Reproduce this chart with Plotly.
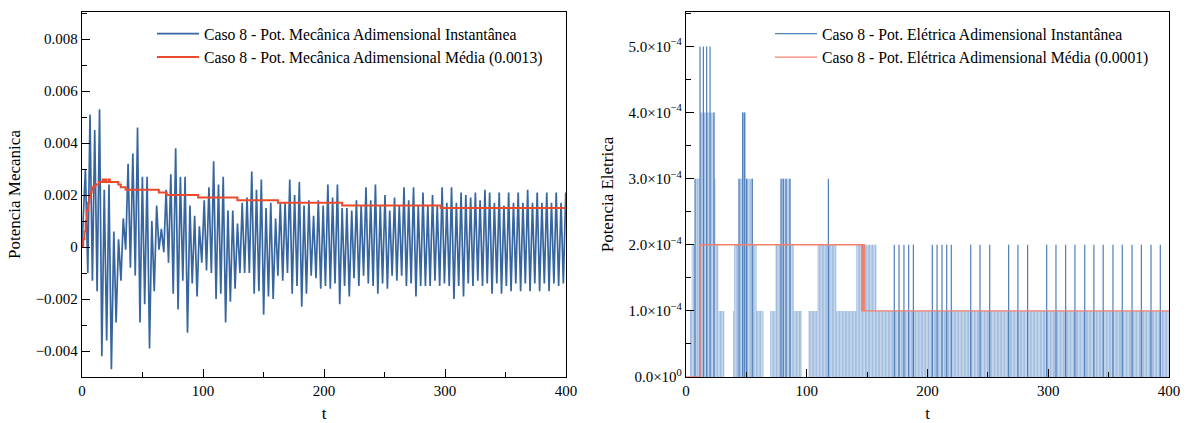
import plotly.graph_objects as go

# ================= LEFT PANEL : mechanical power =================
start_t = [0.0, 2.8, 4.8]
start_v = [0.0, 0.0030, -0.0010]

peak_t = [6.6, 10.5, 14.5, 18.4, 22.3, 26.3, 30.2, 34.1, 38.1, 42.0,
          45.9, 49.9, 53.8, 57.7, 61.7, 65.6, 69.5, 73.4, 77.4, 81.3,
          85.2, 89.2, 93.1, 97.0, 101.0, 104.9, 108.8, 112.8, 116.7, 120.6,
          124.6, 128.5, 132.4, 136.4, 140.3, 144.2, 148.2, 152.1, 156.0, 160.0,
          163.9, 167.8, 171.7, 175.7, 179.6, 183.5, 187.5, 191.4, 195.3, 199.3,
          203.2, 207.1, 211.1, 215.0, 218.9, 222.9, 226.8, 230.7, 234.7, 238.6,
          242.5, 246.5, 250.4, 254.3, 258.3, 262.2, 266.1, 270.0, 274.0, 277.9,
          281.8, 285.8, 289.7, 293.6, 297.6, 301.5, 305.4, 309.4, 313.3, 317.2,
          321.2, 325.1, 329.0, 333.0, 336.9, 340.8, 344.8, 348.7, 352.6, 356.6,
          360.5, 364.4, 368.3, 372.3, 376.2, 380.1, 384.1, 388.0, 391.9, 395.9,
          399.8]
peak_v = [0.0051, 0.0045, 0.0053, 0.0022, 0.0024, 0.0006, 0.0003, 0.0011, 0.0032, 0.0036,
          0.0046, 0.0027, 0.0027, 0.0010, 0.0016, 0.0007, 0.0022, 0.0028, 0.0038, 0.0027,
          0.0027, 0.0016, 0.0012, 0.0008, 0.0018, 0.0023, 0.0033, 0.0024, 0.0027, 0.0014,
          0.0014, 0.0009, 0.0017, 0.0019, 0.0029, 0.0022, 0.0026, 0.0015, 0.0017, 0.0011,
          0.0017, 0.0017, 0.0026, 0.0020, 0.0025, 0.0016, 0.0018, 0.0012, 0.0018, 0.0016,
          0.0024, 0.0019, 0.0024, 0.0015, 0.0015, 0.0014, 0.0018, 0.0016, 0.0023, 0.0018,
          0.0024, 0.0016, 0.0020, 0.0014, 0.0019, 0.0016, 0.0023, 0.0018, 0.0023, 0.0016,
          0.0021, 0.0016, 0.0020, 0.0016, 0.0023, 0.0017, 0.0023, 0.0017, 0.0021, 0.0020,
          0.0019, 0.0021, 0.0018, 0.0022, 0.0021, 0.0017, 0.0021, 0.0016, 0.0021, 0.0017,
          0.0021, 0.0017, 0.0022, 0.0017, 0.0021, 0.0017, 0.0021, 0.0017, 0.0021, 0.0017,
          0.0021]

trough_t = [8.6, 12.5, 16.4, 20.4, 24.3, 28.2, 32.2, 36.1, 40.0, 44.0,
            47.9, 51.8, 55.8, 59.7, 63.6, 67.6, 71.5, 75.4, 79.4, 83.3,
            87.2, 91.1, 95.1, 99.0, 102.9, 106.9, 110.8, 114.7, 118.7, 122.6,
            126.5, 130.5, 134.4, 138.3, 142.3, 146.2, 150.1, 154.1, 158.0, 161.9,
            165.9, 169.8, 173.7, 177.7, 181.6, 185.5, 189.4, 193.4, 197.3, 201.2,
            205.2, 209.1, 213.0, 217.0, 220.9, 224.8, 228.8, 232.7, 236.6, 240.6,
            244.5, 248.4, 252.4, 256.3, 260.2, 264.2, 268.1, 272.0, 276.0, 279.9,
            283.8, 287.7, 291.7, 295.6, 299.5, 303.5, 307.4, 311.3, 315.3, 319.2,
            323.1, 327.1, 331.0, 334.9, 338.9, 342.8, 346.7, 350.7, 354.6, 358.5,
            362.5, 366.4, 370.3, 374.2, 378.2, 382.1, 386.0, 390.0, 393.9, 397.8]
trough_v = [-0.0013, -0.0017, -0.0042, -0.0036, -0.0047, -0.0029, -0.0013, -0.0001, -0.0008, -0.0011,
            -0.0029, -0.0022, -0.0039, -0.0017, -0.0001, -0.0002, -0.0006, -0.0018, -0.0024, -0.0013,
            -0.0033, -0.0014, -0.0019, -0.0006, -0.0009, -0.0010, -0.0020, -0.0018, -0.0029, -0.0021,
            -0.0016, -0.0010, -0.0010, -0.0010, -0.0018, -0.0017, -0.0026, -0.0019, -0.0020, -0.0011,
            -0.0013, -0.0010, -0.0018, -0.0015, -0.0023, -0.0018, -0.0011, -0.0012, -0.0016, -0.0015,
            -0.0016, -0.0014, -0.0022, -0.0015, -0.0019, -0.0012, -0.0015, -0.0011, -0.0014, -0.0015,
            -0.0018, -0.0014, -0.0016, -0.0011, -0.0013, -0.0011, -0.0015, -0.0014, -0.0019, -0.0015,
            -0.0015, -0.0015, -0.0013, -0.0015, -0.0014, -0.0015, -0.0020, -0.0015, -0.0019, -0.0014,
            -0.0015, -0.0013, -0.0015, -0.0014, -0.0018, -0.0014, -0.0018, -0.0015, -0.0017, -0.0014,
            -0.0017, -0.0014, -0.0017, -0.0014, -0.0017, -0.0014, -0.0017, -0.0014, -0.0015, -0.0014]

mean_t = [0, 1, 2, 3, 4, 5, 6, 7, 8, 9, 10, 11, 12, 14, 16, 17, 18, 19, 20, 22, 23,
          24, 28, 30, 32, 34, 36, 63.5, 70, 96, 128.4, 162, 215, 296.5, 400]
mean_v = [0.0, 0.0003, 0.0006, 0.0010, 0.0014, 0.0017, 0.0019, 0.0021, 0.0022, 0.0023,
          0.0023, 0.0024, 0.0024, 0.0025, 0.0025, 0.0026, 0.0025, 0.0026, 0.0025, 0.0026,
          0.0025, 0.0025, 0.0025, 0.0024, 0.0023, 0.0023, 0.0022, 0.0021, 0.0020, 0.0019,
          0.0018, 0.0017, 0.0016, 0.0015, 0.0015]

mech_yticks = [-0.004, -0.002, 0, 0.002, 0.004, 0.006, 0.008]
mech_yticktext = ["\u22120.004", "\u22120.002", "0", "0.002", "0.004", "0.006", "0.008"]

# ================= RIGHT PANEL : electrical power =================
band_t0 = [3.3, 39.0, 69.7, 101.4, 4.7, 39.8, 74.0, 108.8, 141.0, 7.5, 43.5, 78.5, 11.6, 46.5]
band_t1 = [31.7, 64.2, 95.9, 400.0, 26.8, 58.5, 89.2, 124.5, 157.7, 24.5, 55.5, 86.5, 23.5, 49.5]
band_lo = [0, 0, 0, 0, 1e-4, 1e-4, 1e-4, 1e-4, 1e-4, 2e-4, 2e-4, 2e-4, 3e-4, 3e-4]
band_hi = [1e-4, 1e-4, 1e-4, 1e-4, 2e-4, 2e-4, 2e-4, 2e-4, 2e-4, 3e-4, 3e-4, 3e-4, 4e-4, 4e-4]

spike_t = [11.6, 14.4, 17.1, 19.9,
           23.2, 46.9, 48.6,
           7.5, 43.9, 50.2, 54.9, 78.7, 80.6, 82.8, 86.1, 117.9,
           172.5, 176.4, 180.5, 184.4, 188.3, 204.0, 207.9, 212.0, 215.9, 219.7,
           235.8, 243.5, 251.5, 267.2, 274.9, 282.9, 298.7, 306.4, 314.4, 322.1,
           330.2, 337.8, 345.5, 353.6, 361.3, 369.4, 377.1, 385.1, 392.8]
spike_v = [5e-4, 5e-4, 5e-4, 5e-4,
           4e-4, 4e-4, 4e-4,
           3e-4, 3e-4, 3e-4, 3e-4, 3e-4, 3e-4, 3e-4, 3e-4, 3e-4,
           2e-4, 2e-4, 2e-4, 2e-4, 2e-4, 2e-4, 2e-4, 2e-4, 2e-4, 2e-4,
           2e-4, 2e-4, 2e-4, 2e-4, 2e-4, 2e-4, 2e-4, 2e-4, 2e-4, 2e-4,
           2e-4, 2e-4, 2e-4, 2e-4, 2e-4, 2e-4, 2e-4, 2e-4, 2e-4]

emean_t = [0, 11.6, 145.6, 146.1, 146.6, 147.1, 147.6, 400]
emean_v = [0, 2e-4, 1e-4, 2e-4, 1e-4, 2e-4, 1e-4, 1e-4]

elec_yticks = [0, 1e-4, 2e-4, 3e-4, 4e-4, 5e-4]
elec_yticktext = ["0.0\u00d710<sup>0</sup>", "1.0\u00d710<sup>\u22124</sup>", "2.0\u00d710<sup>\u22124</sup>",
                  "3.0\u00d710<sup>\u22124</sup>", "4.0\u00d710<sup>\u22124</sup>", "5.0\u00d710<sup>\u22124</sup>"]

xticks = [0, 100, 200, 300, 400]

# ---------- build series ----------
pts = sorted(list(zip(start_t, start_v)) + list(zip(peak_t, peak_v)) + list(zip(trough_t, trough_v)))
mech_x = [p[0] for p in pts]
mech_y = [p[1] for p in pts]

bx, by = [], []
for a, b, lo, hi in zip(band_t0, band_t1, band_lo, band_hi):
    bx += [a, a, b, b, a, None]
    by += [lo, hi, hi, lo, lo, None]

sx, sy = [], []
for t, v in zip(spike_t, spike_v):
    sx += [t, t, None]
    sy += [0, v, None]

FONT = "Liberation Serif, Times New Roman, serif"
fig = go.Figure()

fig.add_trace(go.Scatter(x=mech_x, y=mech_y, mode="lines",
                         line=dict(color="#36659f", width=1.7),
                         name="Caso 8 - Pot. Mecânica Adimensional Instantânea",
                         xaxis="x", yaxis="y", legend="legend"))
fig.add_trace(go.Scatter(x=mean_t, y=mean_v, mode="lines", line_shape="hv",
                         line=dict(color="#ec4a2c", width=2),
                         name="Caso 8 - Pot. Mecânica Adimensional Média (0.0013)",
                         xaxis="x", yaxis="y", legend="legend"))

fig.add_trace(go.Scatter(x=bx, y=by, mode="lines", fill="toself",
                         line=dict(width=0, color="rgba(0,0,0,0)"),
                         fillcolor="#c4d6ec",
                         fillpattern=dict(shape="|", size=3.3, solidity=0.3,
                                          fgcolor="#5a88c2", bgcolor="#c4d6ec"),
                         showlegend=False, hoverinfo="skip",
                         xaxis="x2", yaxis="y2"))
fig.add_trace(go.Scatter(x=sx, y=sy, mode="lines",
                         line=dict(color="#4f7fbb", width=1.2),
                         name="Caso 8 - Pot. Elétrica Adimensional Instantânea",
                         xaxis="x2", yaxis="y2", legend="legend2"))
fig.add_trace(go.Scatter(x=emean_t, y=emean_v, mode="lines", line_shape="hv",
                         line=dict(color="#f2806c", width=1.4),
                         name="Caso 8 - Pot. Elétrica Adimensional Média (0.0001)",
                         xaxis="x2", yaxis="y2", legend="legend2"))

W, H = 1190, 423
ax_common = dict(showline=True, linecolor="black", linewidth=1.3, mirror=True,
                 ticks="inside", ticklen=8, tickwidth=1.2, tickcolor="black",
                 showgrid=False, zeroline=False,
                 tickfont=dict(family=FONT, size=15, color="black"),
                 automargin=False)

fig.update_layout(
    width=W, height=H,
    margin=dict(l=0, r=0, t=0, b=0),
    paper_bgcolor="white", plot_bgcolor="white",
    font=dict(family=FONT, size=15, color="black"),
    xaxis=dict(domain=[82 / W, 566 / W], range=[0, 400], tickmode="array", tickvals=xticks,
               minor=dict(ticks="inside", ticklen=5, tickmode="linear", tick0=0, dtick=50, tickcolor="black"),
               title=dict(text="t", font=dict(family=FONT, size=17), standoff=8),
               anchor="y", **ax_common),
    yaxis=dict(domain=[46 / H, 411 / H], range=[-0.005, 0.00904], tickmode="array",
               tickvals=mech_yticks, ticktext=mech_yticktext,
               minor=dict(ticks="inside", ticklen=5, tickmode="linear", tick0=0, dtick=0.001, tickcolor="black"),
               title=dict(text="Potencia Mecanica", font=dict(family=FONT, size=17), standoff=10),
               anchor="x", **ax_common),
    xaxis2=dict(domain=[686 / W, 1169 / W], range=[0, 400], tickmode="array", tickvals=xticks,
                minor=dict(ticks="inside", ticklen=5, tickmode="linear", tick0=0, dtick=50, tickcolor="black"),
                title=dict(text="t", font=dict(family=FONT, size=17), standoff=8),
                anchor="y2", **ax_common),
    yaxis2=dict(domain=[46 / H, 411 / H], range=[0, 5.52e-4], tickmode="array",
                tickvals=elec_yticks, ticktext=elec_yticktext,
                minor=dict(ticks="inside", ticklen=5, tickmode="linear", tick0=0, dtick=0.5e-4, tickcolor="black"),
                title=dict(text="Potencia Eletrica", font=dict(family=FONT, size=17), standoff=10),
                anchor="x2", **ax_common),
    legend=dict(x=152 / W, y=1 - 17 / H, xanchor="left", yanchor="top",
                bgcolor="rgba(0,0,0,0)", borderwidth=0, itemwidth=42,
                font=dict(family=FONT, size=15.7, color="black")),
    legend2=dict(x=770 / W, y=1 - 17 / H, xanchor="left", yanchor="top",
                 bgcolor="rgba(0,0,0,0)", borderwidth=0, itemwidth=42,
                 font=dict(family=FONT, size=15.7, color="black")),
)

fig.write_html("out.html")
